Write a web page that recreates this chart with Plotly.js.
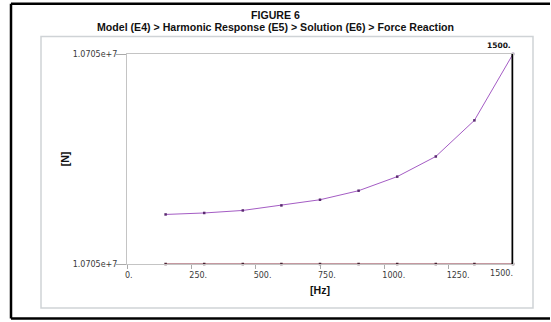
<!DOCTYPE html>
<html>
<head>
<meta charset="utf-8">
<script src="https://cdn.plot.ly/plotly-3.0.1.min.js"></script>
<style>
html,body{margin:0;padding:0;background:#fff;overflow:hidden;}
#chart{width:551px;height:322px;}
</style>
</head>
<body>
<div id="chart"></div>
<script>
// Frequencies [Hz]
const freq = [150, 300, 450, 600, 750, 900, 1050, 1200, 1350, 1500];
// Force reaction [N] (upper series)
const forceUpper = [10704973.6, 10704974.3, 10704975.5, 10704977.9, 10704980.6,
                    10704984.9, 10704991.6, 10705001.2, 10705018.4, 10705050.0];
// Lower series [N]
const forceLower = [10704950, 10704950, 10704950, 10704950, 10704950,
                    10704950, 10704950, 10704950, 10704950, 10704950];
// Axis ticks
const xTickVals = [0, 250, 500, 750, 1000, 1250];
const xTickText = ['0.', '250.', '500.', '750.', '1000.', '1250.'];
const xLastTick = [1500];
const xLastText = ['1500.'];
const yTickVals = [10704950, 10705050];
const yTickText = ['1.0705e+7', '1.0705e+7'];
const xRange = [0, 1500];
const yRange = [10704950, 10705050];
const probeFreq = 1500;
const probeLabel = '1500.';
const titleLine1 = 'FIGURE 6';
const titleLine2 = 'Model (E4) > Harmonic Response (E5) > Solution (E6) > Force Reaction';

const W = 551, H = 322, L = 127, R = 38, T = 54, B = 58;
const pw = W - L - R, ph = H - T - B;
const px = v => (v - L) / pw;
const py = v => (H - B - v) / ph;

const tickFont = {family: 'DejaVu Sans, Verdana, sans-serif', size: 8, color: '#3a3a3a'};
const boldFont = {family: 'Liberation Sans, Arial, sans-serif', size: 10.6, color: '#111'};

const traces = [
  {
    x: freq, y: forceLower, xaxis: 'x2', yaxis: 'y',
    type: 'scatter', mode: 'lines+markers', cliponaxis: false,
    line: {color: '#8a3040', width: 1},
    marker: {symbol: 'square', size: 2.5, color: '#4a2030'},
    hoverinfo: 'x+y', showlegend: false
  },
  {
    x: freq, y: forceUpper, xaxis: 'x', yaxis: 'y',
    type: 'scatter', mode: 'lines+markers', cliponaxis: false,
    line: {color: '#a45cc4', width: 1},
    marker: {symbol: 'square', size: 2.5, color: '#5a2a70'},
    hoverinfo: 'x+y', showlegend: false
  }
];

const layout = {
  width: W, height: H,
  margin: {l: L, r: R, t: T, b: B},
  paper_bgcolor: '#fff', plot_bgcolor: '#fff',
  showlegend: false,
  xaxis: {
    range: xRange, tickvals: xTickVals, ticktext: xTickText,
    ticks: 'outside', ticklen: 4, tickcolor: '#aaa', tickwidth: 1,
    ticklabelposition: 'outside right', ticklabelstandoff: 3, ticklabelshift: -3,
    showline: true, linecolor: '#c4c4c4', linewidth: 1, mirror: true,
    showgrid: false, zeroline: false, tickfont: tickFont,
    title: {text: '<b>[Hz]</b>', font: boldFont, standoff: 7}
  },
  xaxis2: {
    range: xRange, overlaying: 'x', anchor: 'y', side: 'bottom',
    tickvals: xLastTick, ticktext: xLastText, ticks: '',
    ticklabelposition: 'outside left', ticklabelstandoff: 3,
    showline: false, showgrid: false, zeroline: false, tickfont: tickFont
  },
  yaxis: {
    range: yRange, tickvals: yTickVals, ticktext: yTickText,
    ticks: 'outside', ticklen: 10, tickcolor: '#aaa', tickwidth: 1,
    ticklabelstandoff: -3,
    showline: true, linecolor: '#c4c4c4', linewidth: 1, mirror: true,
    showgrid: false, zeroline: false, tickfont: tickFont,
    title: {text: '<b>[N]</b>', font: boldFont, standoff: 0}
  },
  shapes: [
    {type: 'rect', xref: 'paper', yref: 'paper', layer: 'below',
     x0: px(41), x1: px(533), y0: py(308), y1: py(36.5),
     line: {color: '#cfd3d6', width: 1.5}},
    {type: 'line', xref: 'paper', yref: 'paper',
     x0: px(11), x1: px(550), y0: py(3.7), y1: py(3.7),
     line: {color: '#000', width: 2.5}},
    {type: 'line', xref: 'paper', yref: 'paper',
     x0: px(11), x1: px(550), y0: py(318.5), y1: py(318.5),
     line: {color: '#000', width: 2.5}},
    {type: 'line', xref: 'paper', yref: 'paper',
     x0: px(11), x1: px(11), y0: py(3.7), y1: py(318.5),
     line: {color: '#000', width: 2.5}},
    {type: 'line', xref: 'x', yref: 'paper',
     x0: probeFreq, x1: probeFreq, y0: 0, y1: 1,
     line: {color: '#000', width: 3}}
  ],
  annotations: [
    {xref: 'paper', yref: 'paper', x: px(275.5), y: py(15), xanchor: 'center', yanchor: 'middle',
     showarrow: false, text: '<b>' + titleLine1 + '</b>', font: boldFont},
    {xref: 'paper', yref: 'paper', x: px(275.5), y: py(27), xanchor: 'center', yanchor: 'middle',
     showarrow: false, text: '<b>' + titleLine2 + '</b>', font: boldFont},
    {xref: 'x', yref: 'paper', x: probeFreq, y: 1, xanchor: 'right', yanchor: 'bottom',
     yshift: 2, showarrow: false, text: '<b>' + probeLabel + '</b>',
     font: {family: 'DejaVu Sans, Verdana, sans-serif', size: 7.5, color: '#111'}}
  ]
};

Plotly.newPlot('chart', traces, layout, {displayModeBar: false, staticPlot: true});
</script>
</body>
</html>
